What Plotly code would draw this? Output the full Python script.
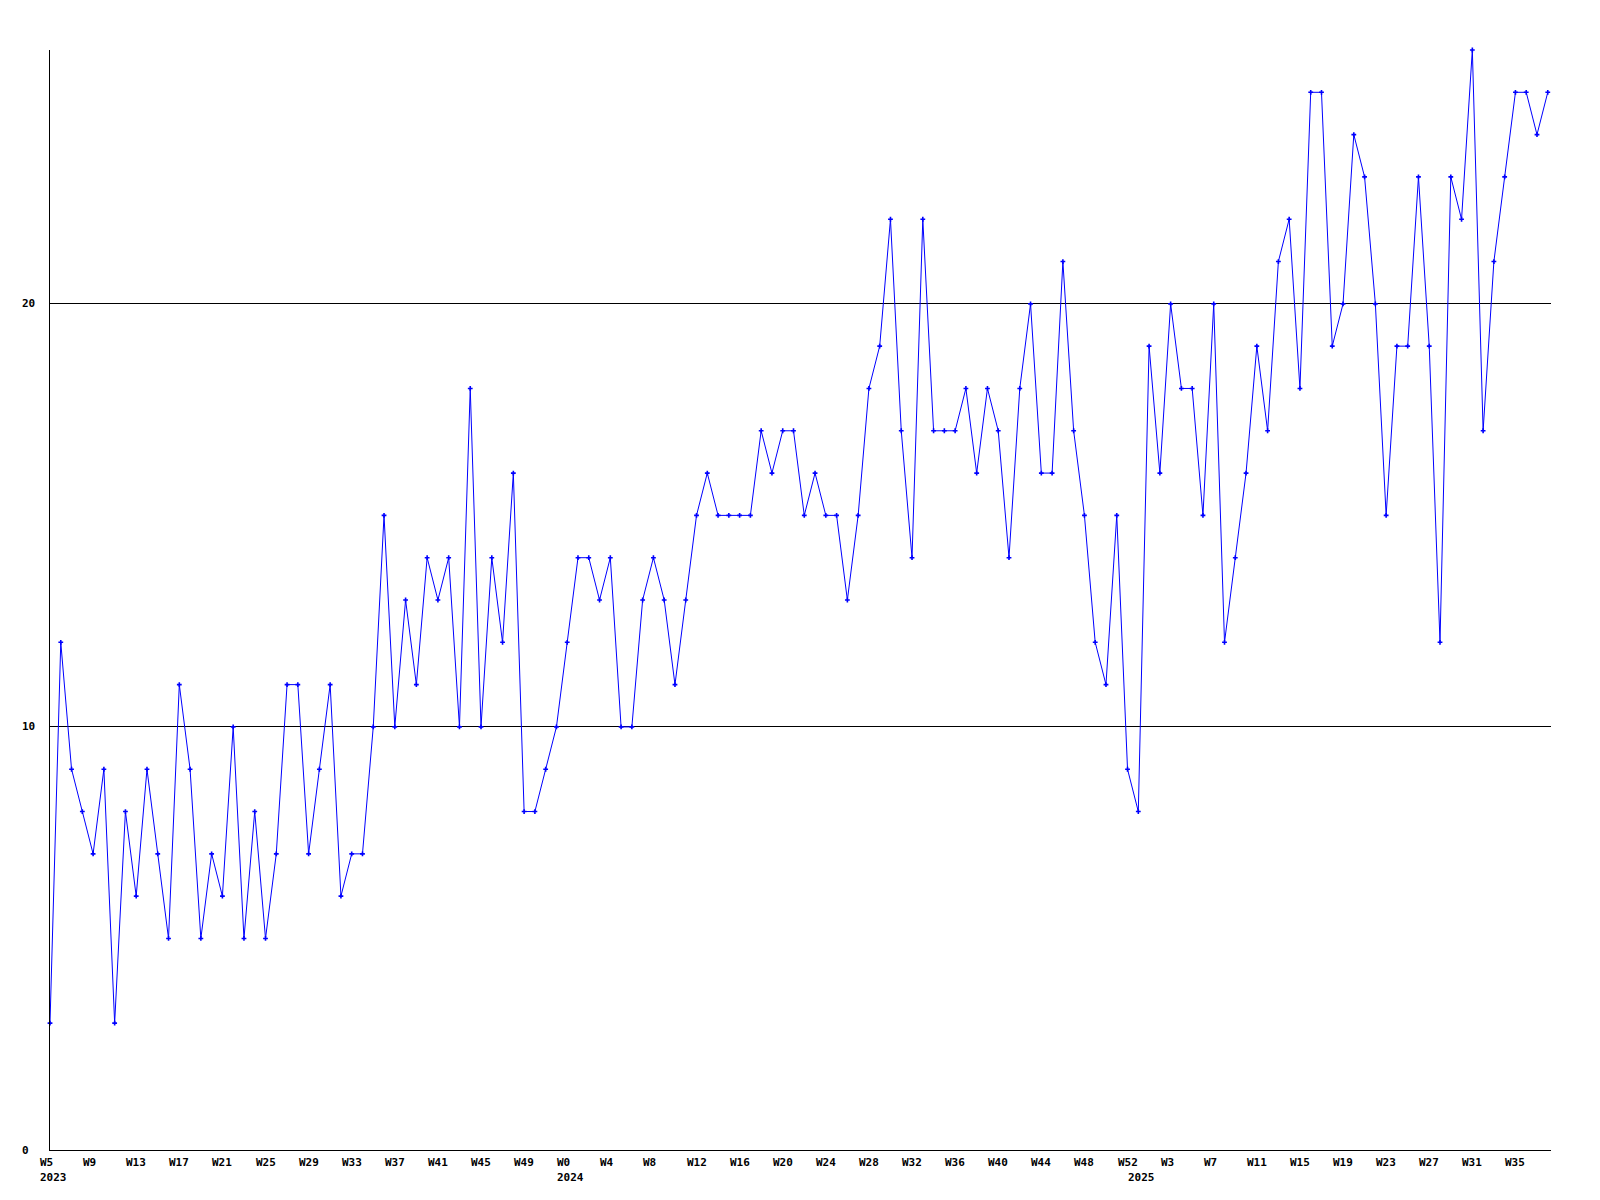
import plotly.graph_objects as go

# Week numbers per year (categories)
weeks_2023 = list(range(5, 53))
weeks_2024 = list(range(0, 53))
weeks_2025 = list(range(0, 39))

values = [
    3, 12, 9, 8, 7, 9, 3, 8, 6, 9,
    7, 5, 11, 9, 5, 7, 6, 10, 5, 8,
    5, 7, 11, 11, 7, 9, 11, 6, 7, 7,
    10, 15, 10, 13, 11, 14, 13, 14, 10, 18,
    10, 14, 12, 16, 8, 8, 9, 10, 12, 14,
    14, 13, 14, 10, 10, 13, 14, 13, 11, 13,
    15, 16, 15, 15, 15, 15, 17, 16, 17, 17,
    15, 16, 15, 15, 13, 15, 18, 19, 22, 17,
    14, 22, 17, 17, 17, 18, 16, 18, 17, 14,
    18, 20, 16, 16, 21, 17, 15, 12, 11, 15,
    9, 8, 19, 16, 20, 18, 18, 15, 20, 12,
    14, 16, 19, 17, 21, 22, 18, 25, 25, 19,
    20, 24, 23, 20, 15, 19, 19, 23, 19, 12,
    23, 22, 26, 17, 21, 23, 25, 25, 24, 25,
]

y_tick_values = [0, 10, 20]

categories = ([f"{2023}-W{w:02d}" for w in weeks_2023]
              + [f"{2024}-W{w:02d}" for w in weeks_2024]
              + [f"{2025}-W{w:02d}" for w in weeks_2025])
week_nums = weeks_2023 + weeks_2024 + weeks_2025
years = [2023] * len(weeks_2023) + [2024] * len(weeks_2024) + [2025] * len(weeks_2025)

FONT = dict(family="DejaVu Sans Mono", size=11, color="black", weight="bold")

fig = go.Figure()
fig.add_trace(go.Scatter(
    x=categories, y=values, mode="lines+markers",
    line=dict(color="#0000ff", width=1),
    marker=dict(symbol="cross", size=4, color="#0000ff"),
    hoverinfo="x+y", showlegend=False, cliponaxis=False,
))

annotations = []
# x labels every 4 weeks, year label at first week of each year
for i, cat in enumerate(categories):
    if i % 4 == 0:
        annotations.append(dict(
            x=cat, y=0, xref="x", yref="paper", text=f"W{week_nums[i]}",
            showarrow=False, xanchor="left", yanchor="middle",
            xshift=-12, yshift=-12, font=FONT, align="left"))
    if i == 0 or years[i] != years[i - 1]:
        annotations.append(dict(
            x=cat, y=0, xref="x", yref="paper", text=str(years[i]),
            showarrow=False, xanchor="left", yanchor="middle",
            xshift=-12, yshift=-27, font=FONT, align="left"))
for v in y_tick_values:
    annotations.append(dict(
        x=0, y=v, xref="paper", yref="y", text=str(v), showarrow=False,
        xanchor="left", yanchor="middle", xshift=-30, font=FONT))

fig.update_layout(
    width=1592, height=1192,
    margin=dict(l=42, r=49, t=42, b=50),
    paper_bgcolor="white", plot_bgcolor="white",
    annotations=annotations,
    xaxis=dict(type="category", categoryorder="array", categoryarray=categories,
               range=[0, 139.3], showgrid=False, showline=True, linecolor="black",
               linewidth=1, showticklabels=False, ticks="", zeroline=False),
    yaxis=dict(range=[0, 26], dtick=10, tick0=0, showgrid=True, gridcolor="black",
               gridwidth=1, showline=True, linecolor="black", linewidth=1,
               showticklabels=False, ticks="", zeroline=False),
)

fig.write_html("out.html")
